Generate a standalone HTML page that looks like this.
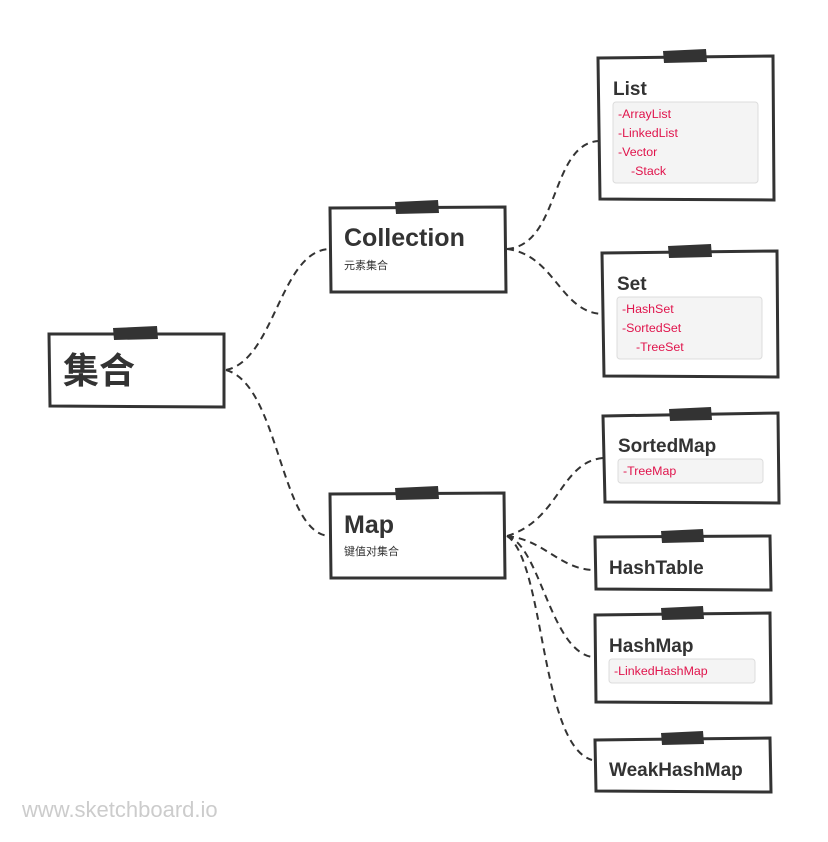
<!DOCTYPE html>
<html><head><meta charset="utf-8"><style>
html,body{margin:0;padding:0;background:#fff;width:828px;height:842px;overflow:hidden}
svg{display:block}
text{font-family:"Liberation Sans","Noto Sans CJK SC",sans-serif}
.b{fill:#fff;stroke:#333;stroke-width:3;stroke-linejoin:miter}
.t{fill:#333}
.d{fill:none;stroke:#333;stroke-width:2;stroke-dasharray:7,5}
.g{fill:#f4f4f4;stroke:#dcdcdc;stroke-width:1}
.h{font-weight:bold;fill:#333}
.r{fill:#e0144c;font-size:12.4px}
</style></head><body>
<svg width="828" height="842" viewBox="0 0 828 842">
<path class="d" d="M226,370 C275,360 280,250 330,249"/>
<path class="d" d="M226,370 C280,385 280,535 330,536"/>
<path class="d" d="M507,249 C560,245 550,145 598,141"/>
<path class="d" d="M507,249 C555,255 560,312 602,314"/>
<path class="d" d="M507,536 C560,520 560,462 603,458"/>
<path class="d" d="M507,536 C545,540 560,570 595,570"/>
<path class="d" d="M507,536 C540,545 550,650 592,657"/>
<path class="d" d="M507,536 C545,560 540,745 592,760"/>

<polygon class="b" points="49,334 224,334 224,407 50,406"/>
<polygon class="t" points="113,328 157,326 158,339 114,340"/>
<text x="63" y="383" class="h" font-size="36">集合</text>

<polygon class="b" points="330,208 505,207 506,292 331,292"/>
<polygon class="t" points="395,202 438,200 439,213 396,214"/>
<text x="344" y="246" class="h" font-size="25">Collection</text>
<text x="344" y="269" font-size="11" fill="#333">元素集合</text>

<polygon class="b" points="330,494 504,493 505,578 331,578"/>
<polygon class="t" points="395,488 438,486 439,499 396,500"/>
<text x="344" y="533" class="h" font-size="25">Map</text>
<text x="344" y="555" font-size="11" fill="#333">键值对集合</text>

<polygon class="b" points="598,58 773,56 774,200 600,199"/>
<polygon class="t" points="663,51 706,49 707,62 664,63"/>
<text x="613" y="95" class="h" font-size="19">List</text>
<rect class="g" x="613" y="102" width="145" height="81" rx="3"/>
<text x="618" y="118" class="r">-ArrayList</text>
<text x="618" y="137" class="r">-LinkedList</text>
<text x="618" y="156" class="r">-Vector</text>
<text x="631" y="175" class="r">-Stack</text>

<polygon class="b" points="602,253 777,251 778,377 604,376"/>
<polygon class="t" points="668,246 711,244 712,257 669,258"/>
<text x="617" y="290" class="h" font-size="19">Set</text>
<rect class="g" x="617" y="297" width="145" height="62" rx="3"/>
<text x="622" y="313" class="r">-HashSet</text>
<text x="622" y="332" class="r">-SortedSet</text>
<text x="636" y="351" class="r">-TreeSet</text>

<polygon class="b" points="603,416 778,413 779,503 605,502"/>
<polygon class="t" points="669,409 711,407 712,420 670,421"/>
<text x="618" y="452" class="h" font-size="19">SortedMap</text>
<rect class="g" x="618" y="459" width="145" height="24" rx="3"/>
<text x="623" y="475" class="r">-TreeMap</text>

<polygon class="b" points="595,537 770,536 771,590 596,589"/>
<polygon class="t" points="661,531 703,529 704,542 662,543"/>
<text x="609" y="574" class="h" font-size="19">HashTable</text>

<polygon class="b" points="595,615 770,613 771,703 596,702"/>
<polygon class="t" points="661,608 703,606 704,619 662,620"/>
<text x="609" y="652" class="h" font-size="19">HashMap</text>
<rect class="g" x="609" y="659" width="146" height="24" rx="3"/>
<text x="614" y="675" class="r">-LinkedHashMap</text>

<polygon class="b" points="595,740 770,738 771,792 596,791"/>
<polygon class="t" points="661,733 703,731 704,744 662,745"/>
<text x="609" y="776" class="h" font-size="19">WeakHashMap</text>

<text x="22" y="817" font-size="22" fill="#cccccc">www.sketchboard.io</text>
</svg>
</body></html>
